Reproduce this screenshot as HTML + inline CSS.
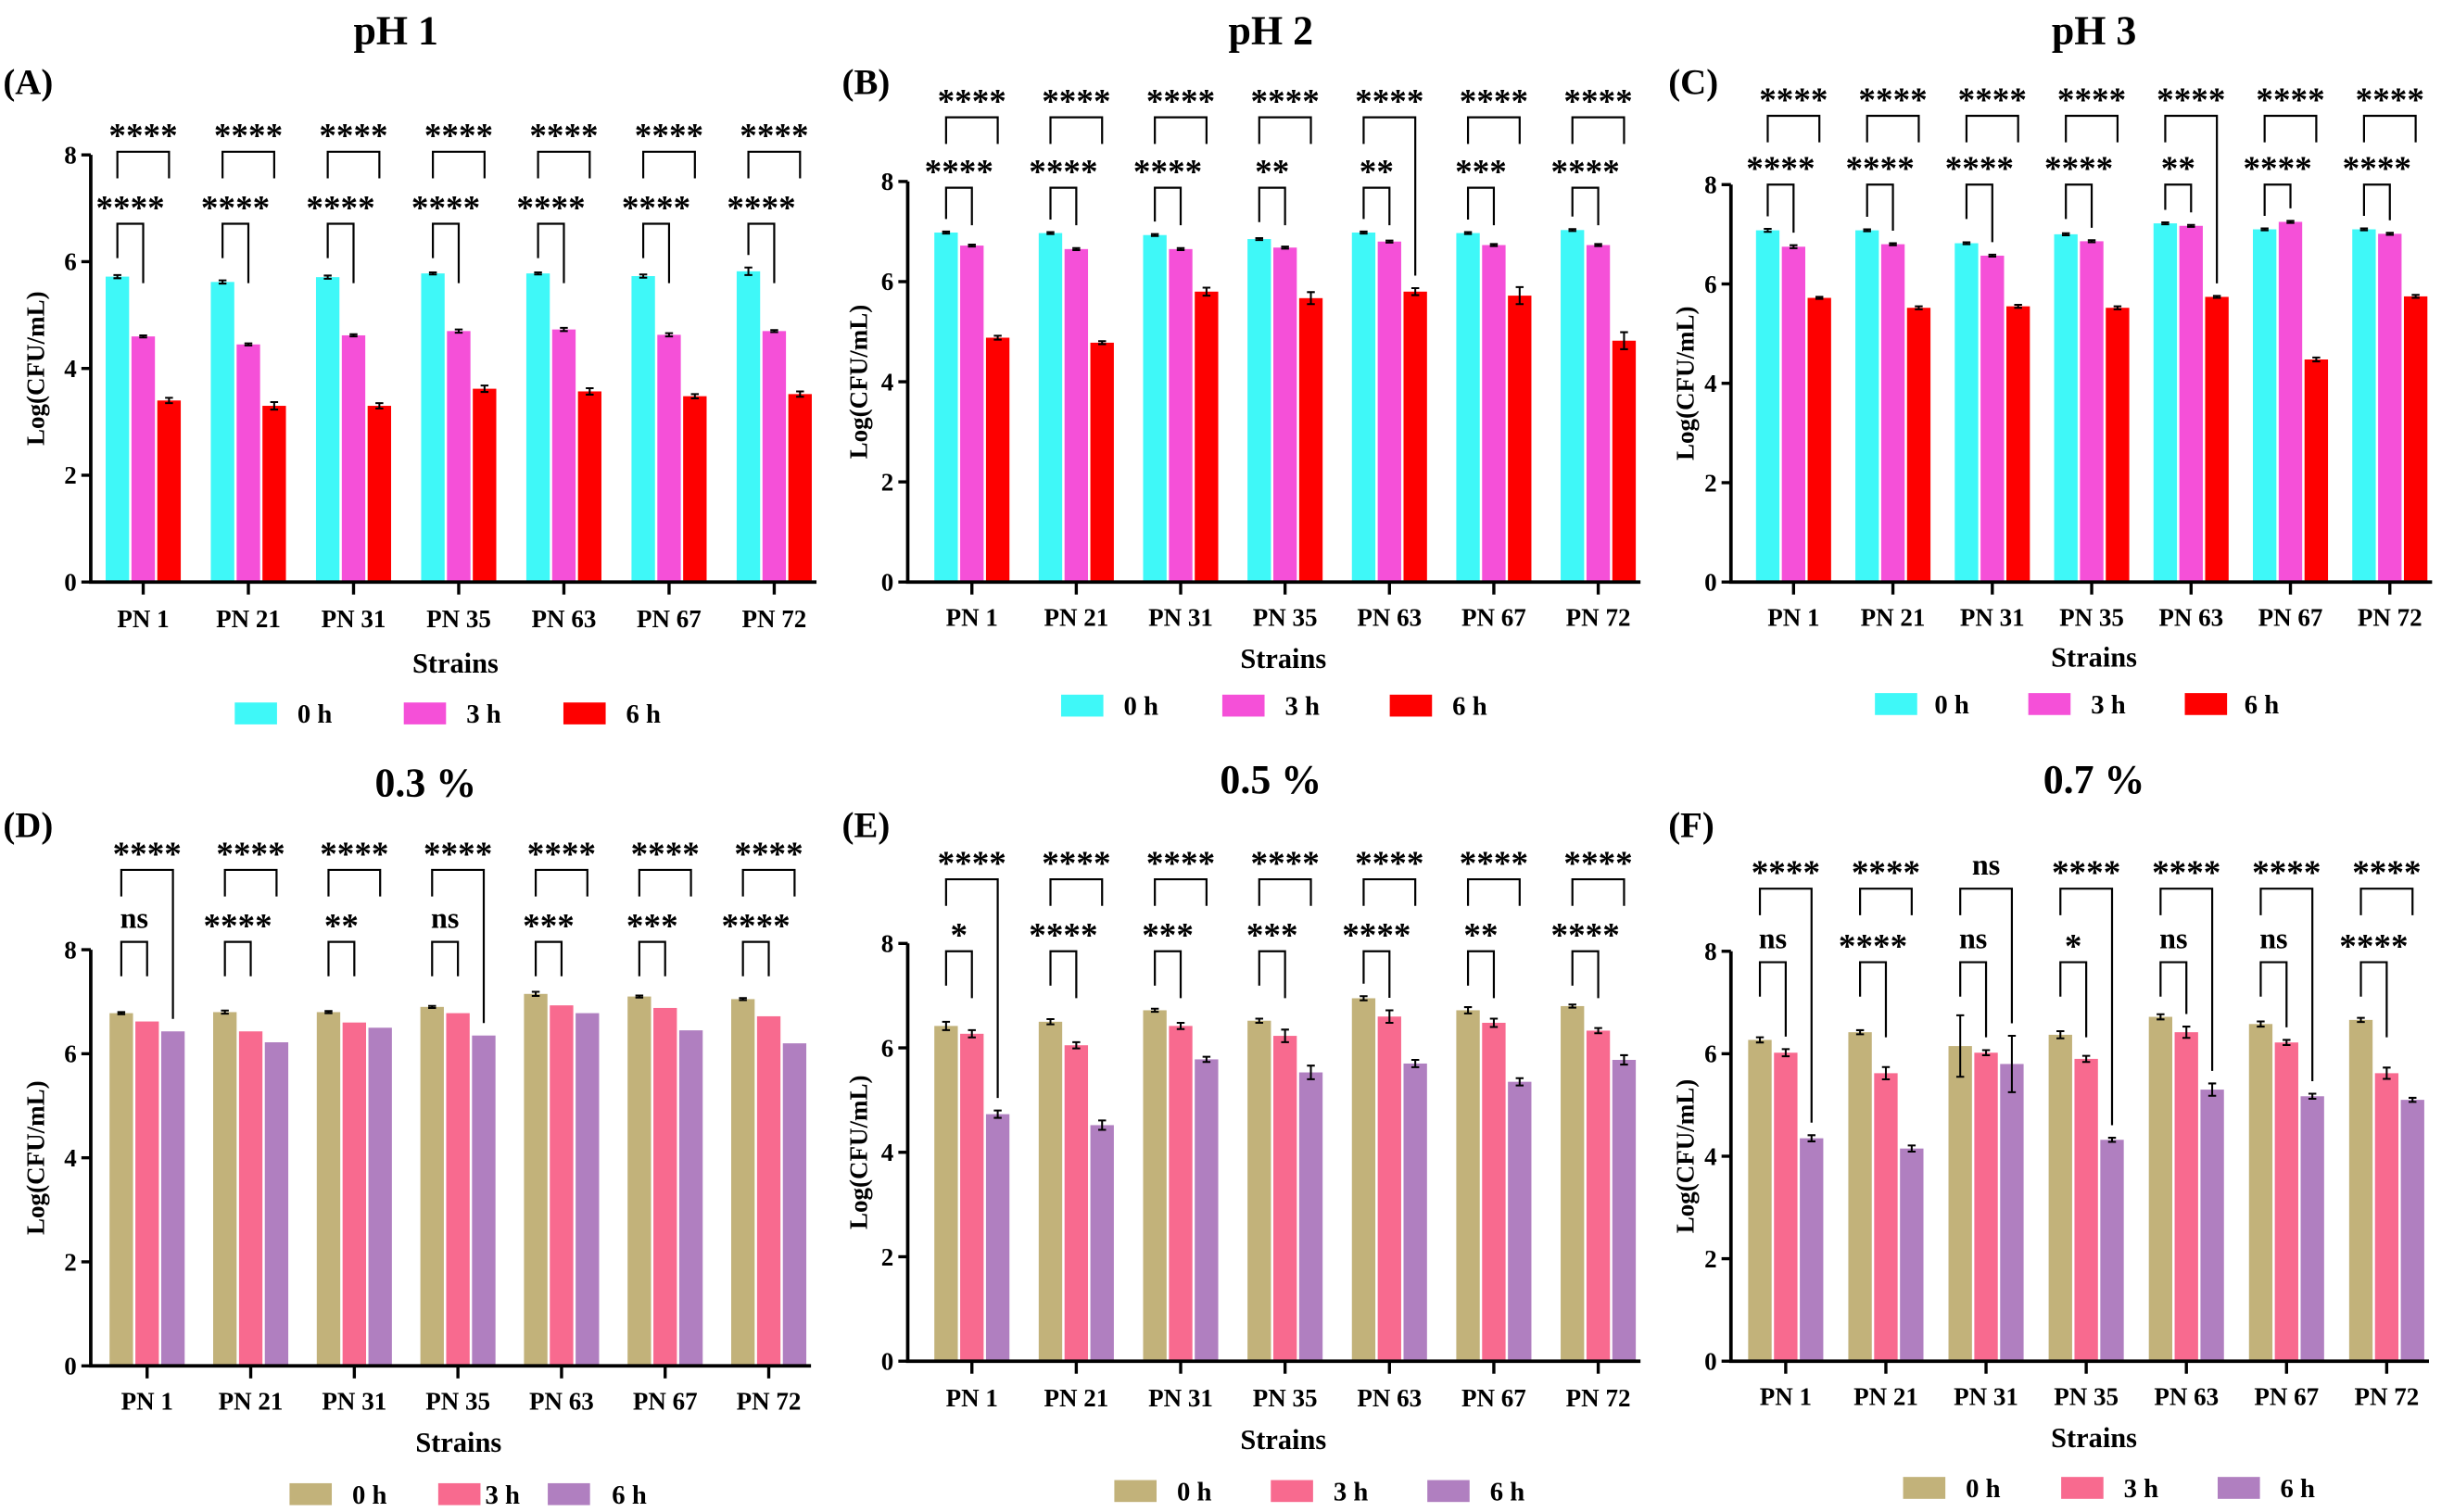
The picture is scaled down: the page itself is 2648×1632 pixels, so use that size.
<!DOCTYPE html>
<html><head><meta charset="utf-8">
<style>
html,body{margin:0;padding:0;background:#fff;}
svg{display:block;}
text{font-family:"Liberation Serif",serif;font-weight:bold;fill:#000;}
</style></head>
<body>
<svg id="fig" width="2648" height="1632" viewBox="0 0 1568 966.4" preserveAspectRatio="none" xmlns="http://www.w3.org/2000/svg"></svg>
<script>
const categories = ["PN 1","PN 21","PN 31","PN 35","PN 63","PN 67","PN 72"];
const seriesNames = ["0 h","3 h","6 h"];
const yTicks = [0,2,4,6,8];
// Panel A (pH 1)
const aV0 = [5.72,5.62,5.71,5.78,5.78,5.73,5.82];
const aV3 = [4.60,4.45,4.62,4.70,4.73,4.63,4.70];
const aV6 = [3.40,3.30,3.30,3.62,3.57,3.48,3.52];
const aE0 = [0.03,0.03,0.03,0.02,0.02,0.03,0.07];
const aE3 = [0.02,0.02,0.02,0.03,0.03,0.03,0.02];
const aE6 = [0.05,0.07,0.05,0.06,0.06,0.04,0.05];
const aTop = ["****","****","****","****","****","****","****"];
const aLow = ["****","****","****","****","****","****","****"];
// Panel B (pH 2)
const bV0 = [6.98,6.97,6.93,6.85,6.98,6.97,7.03];
const bV3 = [6.72,6.65,6.65,6.68,6.80,6.73,6.73];
const bV6 = [4.88,4.78,5.80,5.67,5.80,5.72,4.82];
const bE0 = [0.02,0.02,0.02,0.02,0.02,0.02,0.02];
const bE3 = [0.02,0.02,0.02,0.02,0.02,0.02,0.02];
const bE6 = [0.04,0.03,0.08,0.12,0.07,0.17,0.17];
const bTop = ["****","****","****","****","****","****","****"];
const bLow = ["****","****","****","**","**","***","****"];
// Panel C (pH 3)
const cV0 = [7.08,7.08,6.82,7.00,7.22,7.10,7.10];
const cV3 = [6.75,6.80,6.57,6.86,7.17,7.25,7.01];
const cV6 = [5.72,5.52,5.55,5.52,5.74,4.48,5.75];
const cE0 = [0.03,0.02,0.02,0.02,0.02,0.02,0.02];
const cE3 = [0.03,0.02,0.02,0.02,0.02,0.02,0.02];
const cE6 = [0.02,0.03,0.03,0.03,0.02,0.04,0.03];
const cTop = ["****","****","****","****","****","****","****"];
const cLow = ["****","****","****","****","**","****","****"];
// Panel D (0.3 %)
const dV0 = [6.78,6.80,6.80,6.90,7.15,7.10,7.05];
const dV3 = [6.62,6.43,6.60,6.78,6.93,6.88,6.72];
const dV6 = [6.43,6.22,6.50,6.35,6.78,6.45,6.20];
const dE0 = [0.02,0.03,0.02,0.02,0.04,0.02,0.02];
const dE3 = [0,0,0,0,0,0,0];
const dE6 = [0,0,0,0,0,0,0];
const dTop = ["****","****","****","****","****","****","****"];
const dLow = ["ns","****","**","ns","***","***","****"];
// Panel E (0.5 %)
const eV0 = [6.42,6.50,6.72,6.52,6.95,6.72,6.80];
const eV3 = [6.27,6.05,6.42,6.23,6.60,6.48,6.33];
const eV6 = [4.73,4.52,5.78,5.53,5.70,5.35,5.77];
const eE0 = [0.08,0.05,0.03,0.04,0.04,0.06,0.03];
const eE3 = [0.07,0.06,0.06,0.12,0.12,0.08,0.05];
const eE6 = [0.07,0.09,0.05,0.13,0.07,0.07,0.09];
const eTop = ["****","****","****","****","****","****","****"];
const eLow = ["*","****","***","***","****","**","****"];
// Panel F (0.7 %)
const fV0 = [6.27,6.42,6.15,6.37,6.72,6.58,6.66];
const fV3 = [6.02,5.62,6.02,5.90,6.42,6.22,5.62];
const fV6 = [4.35,4.15,5.80,4.32,5.30,5.17,5.10];
const fE0 = [0.05,0.04,0.60,0.07,0.05,0.05,0.04];
const fE3 = [0.07,0.12,0.05,0.06,0.11,0.05,0.11];
const fE6 = [0.06,0.06,0.55,0.04,0.12,0.05,0.04];
const fTop = ["****","****","ns","****","****","****","****"];
const fLow = ["ns","****","ns","*","ns","ns","****"];

const svg = document.getElementById('fig');
const NS = 'http://www.w3.org/2000/svg';
function mk(tag, attrs, parent){
  const e = document.createElementNS(NS, tag);
  for (const k in attrs) e.setAttribute(k, attrs[k]);
  (parent||svg).appendChild(e);
  return e;
}
const acidColors = ["#3ff8f8","#f550d8","#fe0000"];
const bileColors = ["#c2b27a","#f86a8f","#b07fc0"];

const panels = [
 {id:'a',title:'pH 1',tag:'(A)',tagX:2,tagY:60,titleX:253,titleY:28,ax:58,x0:91.5,dx:67.2,y0:372,y8:99,topY:97,lowY:143,v:[aV0,aV3,aV6],e:[aE0,aE3,aE6],top:aTop,low:aLow,longTop:[],col:acidColors,ytX:22,strY:430,strX:291,catY:401,legY:456,leg:[150,258,360],legT:[190,298,400],rl:38},
 {id:'b',title:'pH 2',tag:'(B)',tagX:538,tagY:60,titleX:812,titleY:28,ax:580,x0:621,dx:66.7,y0:372,y8:116,topY:75,lowY:120,v:[bV0,bV3,bV6],e:[bE0,bE3,bE6],top:bTop,low:bLow,longTop:[4],col:acidColors,ytX:548,strY:427,strX:820,catY:400,legY:451,leg:[678,781,888],legT:[718,821,928],rl:24},
 {id:'c',title:'pH 3',tag:'(C)',tagX:1066,tagY:60,titleX:1338,titleY:28,ax:1106,x0:1146,dx:63.5,y0:372,y8:118,topY:74,lowY:118,v:[cV0,cV3,cV6],e:[cE0,cE3,cE6],top:cTop,low:cLow,longTop:[4],col:acidColors,ytX:1076,strY:426,strX:1338,catY:400,legY:450,leg:[1198,1296,1396],legT:[1236,1336,1434],rl:40},
 {id:'d',title:'0.3 %',tag:'(D)',tagX:2,tagY:535,titleX:272,titleY:509,ax:58,x0:94,dx:66.2,y0:873,y8:607,topY:556,lowY:602,v:[dV0,dV3,dV6],e:[dE0,dE3,dE6],top:dTop,low:dLow,longTop:[0,3],col:bileColors,ytX:22,strY:928,strX:293,catY:901,legY:955,leg:[185,280,350],legT:[225,310,391],rl:22},
 {id:'e',title:'0.5 %',tag:'(E)',tagX:538,tagY:535,titleX:812,titleY:507,ax:580,x0:621,dx:66.7,y0:870,y8:603,topY:562,lowY:608,v:[eV0,eV3,eV6],e:[eE0,eE3,eE6],top:eTop,low:eLow,longTop:[0],col:bileColors,ytX:548,strY:926,strX:820,catY:899,legY:953,leg:[712,812,912],legT:[752,852,952],rl:30},
 {id:'f',title:'0.7 %',tag:'(F)',tagX:1066,tagY:535,titleX:1338,titleY:507,ax:1106,x0:1141,dx:64,y0:870,y8:608,topY:568,lowY:615,v:[fV0,fV3,fV6],e:[fE0,fE3,fE6],top:fTop,low:fLow,longTop:[0,2,3,4,5],col:bileColors,ytX:1076,strY:925,strX:1338,catY:898,legY:951,leg:[1216,1317,1417],legT:[1256,1357,1457],rl:48}
];

panels.forEach(p=>{
  const g = mk('g',{});
  
  
  const yS = v => p.y0 - (p.y8-p.y0)*(-v/8);
  const xC = i => p.x0 + p.dx*i;
  const bw = 15, off = 16.5;
  const bx = (i,s) => xC(i) + (s-1)*off;
  let t;
  t = mk('text',{x:p.titleX,y:p.titleY,'font-size':26,'text-anchor':'middle'},g); t.textContent=p.title;
   
  t = mk('text',{x:p.tagX,y:p.tagY,'font-size':23},g); t.textContent=p.tag;
   
  for (let s=0;s<3;s++){
    for (let i=0;i<categories.length;i++){
      const v = p.v[s][i];
      const r = mk('rect',{x:bx(i,s)-bw/2,y:yS(v),width:bw,height:p.y0-yS(v),fill:p.col[s]},g);
      
      
      const e = p.e[s][i];
      if (e>0){
        const eb = mk('path',{d:`M${bx(i,s)} ${yS(v+e)}V${yS(v-e)}M${bx(i,s)-2.5} ${yS(v+e)}h5M${bx(i,s)-2.5} ${yS(v-e)}h5`,stroke:'#000','stroke-width':1.2,fill:'none'},g);
        
        
      }
    }
  }
  const xEnd = xC(6)+off+bw/2+3;
  const ax = mk('path',{d:`M${p.ax} ${p.y8}V${p.y0}H${xEnd}`,stroke:'#000','stroke-width':2.2,fill:'none'},g);
   
  yTicks.forEach(v=>{
    mk('line',{x1:p.ax-6,x2:p.ax,y1:yS(v),y2:yS(v),stroke:'#000','stroke-width':2},g);
    const tl = mk('text',{x:p.ax-9,y:yS(v)+5.5,'font-size':16,'text-anchor':'end'},g); tl.textContent=v;
     
  });
  categories.forEach((c,i)=>{
    mk('line',{x1:xC(i),x2:xC(i),y1:p.y0,y2:p.y0+8,stroke:'#000','stroke-width':2},g);
    const tl = mk('text',{x:xC(i),y:p.catY,'font-size':16,'text-anchor':'middle'},g); tl.textContent=c;
     
    const xl = bx(i,0), xr = bx(i,2);
    const longR = p.longTop.includes(i);
    const rEnd = longR ? yS(p.v[2][i]+p.e[2][i])-8 : p.topY+17;
    const br = mk('path',{d:`M${xl} ${p.topY+17}V${p.topY}H${xr}V${rEnd}`,stroke:'#000','stroke-width':1.3,fill:'none'},g);
     
    const st = mk('text',{x:(xl+xr)/2,y:p.topY-(p.top[i]==='ns'?9:3),'font-size':p.top[i]==='ns'?19:22,'text-anchor':'middle'},g);
    st.textContent=p.top[i];
     
    const xm = bx(i,1);
    const lEnd = Math.min(p.lowY+22, yS(p.v[0][i]+p.e[0][i])-8);
    const mEnd = Math.min(p.lowY+p.rl, yS(p.v[1][i]+p.e[1][i])-8);
    const lb = mk('path',{d:`M${xl} ${lEnd}V${p.lowY}H${xm}V${mEnd}`,stroke:'#000','stroke-width':1.3,fill:'none'},g);
     
    const s2 = mk('text',{x:(xl+xm)/2,y:p.lowY-(p.low[i]==='ns'?9:3),'font-size':p.low[i]==='ns'?19:22,'text-anchor':'middle'},g);
    s2.textContent=p.low[i];
     
  });
  const yt = mk('text',{x:0,y:0,'font-size':16,'text-anchor':'middle',transform:`translate(${p.ytX+6},${(p.y0+p.y8)/2}) rotate(-90)`},g);
  yt.textContent='Log(CFU/mL)';
   
  const xt = mk('text',{x:p.strX,y:p.strY,'font-size':18,'text-anchor':'middle'},g);
  xt.textContent='Strains';
   
  seriesNames.forEach((n,s)=>{
    const lg = mk('g',{},g);
     
    mk('rect',{x:p.leg[s],y:p.legY-7,width:27,height:14,fill:p.col[s]},lg);
    const lt = mk('text',{x:p.legT[s],y:p.legY+6,'font-size':17},lg); lt.textContent=n;
  });
});
</script>
</body></html>
